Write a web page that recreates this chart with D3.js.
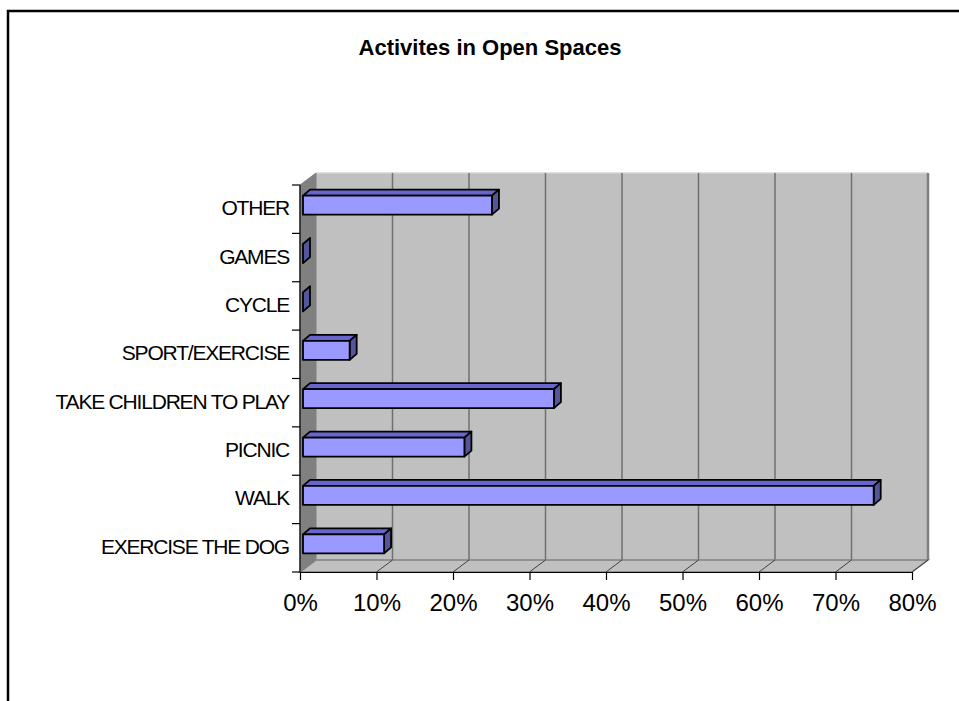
<!DOCTYPE html>
<html>
<head>
<meta charset="utf-8">
<script src="https://cdn.jsdelivr.net/npm/d3@7"></script>
<style>
  html, body { margin: 0; padding: 0; background: #fff; }
  svg { display: block; }
</style>
</head>
<body>
<svg id="chart" width="959" height="701"></svg>
<script>
const title = "Activites in Open Spaces";
const categories = ["EXERCISE THE DOG", "WALK", "PICNIC", "TAKE CHILDREN TO PLAY", "SPORT/EXERCISE", "CYCLE", "GAMES", "OTHER"];
const values = [10.6, 74.6, 21.1, 32.8, 6.1, 0, 0, 24.7];
const xTicks = [0, 10, 20, 30, 40, 50, 60, 70, 80];

const svg = d3.select("#chart");
const font = "'Liberation Sans', Arial, sans-serif";

// outer border
svg.append("rect").attr("x", 8).attr("y", 11).attr("width", 1000).attr("height", 1000)
  .attr("fill", "#fff").attr("stroke", "#000").attr("stroke-width", 2.5);

// geometry
const x0 = 300, x1 = 912, yTopF = 185, yBotF = 572;
const DX = 16, DY = -12;        // wall depth
const x = d3.scaleLinear().domain([0, 80]).range([x0, x1]);
const y = d3.scaleBand().domain(categories).range([yBotF, yTopF]).paddingInner(0).paddingOuter(0);

const walls = svg.append("g");
// back wall
walls.append("rect").attr("x", x0 + DX).attr("y", yTopF + DY).attr("width", x1 - x0).attr("height", yBotF - yTopF)
  .attr("fill", "#c0c0c0").attr("stroke", "none");
// back wall edges
walls.append("line").attr("x1", x0 + DX).attr("x2", x1 + DX).attr("y1", yTopF + DY).attr("y2", yTopF + DY)
  .attr("stroke", "#d4d4d4").attr("stroke-width", 1.5);
walls.append("line").attr("x1", x1 + DX).attr("x2", x1 + DX).attr("y1", yTopF + DY).attr("y2", yBotF + DY)
  .attr("stroke", "#808080").attr("stroke-width", 2.5);
// gridlines on back wall
walls.selectAll("line.grid").data(xTicks.slice(1, -1)).join("line").attr("class", "grid")
  .attr("x1", d => x(d) + DX).attr("x2", d => x(d) + DX)
  .attr("y1", yTopF + DY).attr("y2", yBotF + DY)
  .attr("stroke", "#707070").attr("stroke-width", 1.5);
// floor
walls.append("polygon")
  .attr("points", [[x0, yBotF], [x1, yBotF], [x1 + DX, yBotF + DY], [x0 + DX, yBotF + DY]].map(p => p.join(",")).join(" "))
  .attr("fill", "#c0c0c0").attr("stroke", "#808080").attr("stroke-width", 1.5);
// floor gridlines
walls.selectAll("line.fgrid").data(xTicks.slice(1)).join("line").attr("class", "fgrid")
  .attr("x1", d => x(d)).attr("x2", d => x(d) + DX)
  .attr("y1", yBotF).attr("y2", yBotF + DY)
  .attr("stroke", "#404040").attr("stroke-width", 1);
// left wall
walls.append("polygon")
  .attr("points", [[x0, yTopF], [x0 + DX, yTopF + DY], [x0 + DX, yBotF + DY], [x0, yBotF]].map(p => p.join(",")).join(" "))
  .attr("fill", "#808080").attr("stroke", "#808080").attr("stroke-width", 1);

// bars
const bdx = 7, bdy = -6, bh = 19, off = 3;
const barG = svg.append("g");
categories.forEach((c, i) => {
  const v = values[i];
  const xa = x(0) + off, xb = x(v) + off;
  const cy = y(c) + y.bandwidth() / 2 - 4;
  const yt = cy - bh / 2, yb = cy + bh / 2;
  const g = barG.append("g").attr("stroke", "#000").attr("stroke-width", 1.8).attr("stroke-linejoin", "round");
  g.append("polygon").attr("points", [[xa, yt], [xa + bdx, yt + bdy], [xb + bdx, yt + bdy], [xb, yt]].map(p => p.join(",")).join(" "))
    .attr("fill", "#6666cc");
  g.append("polygon").attr("points", [[xb, yt], [xb + bdx, yt + bdy], [xb + bdx, yb + bdy], [xb, yb]].map(p => p.join(",")).join(" "))
    .attr("fill", "#555599");
  g.append("rect").attr("x", xa).attr("y", yt).attr("width", xb - xa).attr("height", bh)
    .attr("fill", "#9999ff");
});

// y axis
const yAx = svg.append("g");
yAx.append("line").attr("x1", x0).attr("x2", x0).attr("y1", yTopF).attr("y2", yBotF).attr("stroke", "#000").attr("stroke-width", 1.2);
const bounds = categories.map(c => y(c)).concat([yBotF]);
yAx.selectAll("line.t").data(bounds).join("line").attr("class", "t")
  .attr("x1", x0 - 8).attr("x2", x0).attr("y1", d => d).attr("y2", d => d)
  .attr("stroke", "#000").attr("stroke-width", 1.2);
yAx.selectAll("text").data(categories).join("text")
  .attr("x", 289).attr("y", d => y(d) + y.bandwidth() / 2 + 6)
  .attr("text-anchor", "end").attr("font-family", font).attr("font-size", 21)
  .attr("letter-spacing", -1.2).attr("fill", "#000").text(d => d);

// x axis
const xAxis = d3.axisBottom(x).tickValues(xTicks).tickFormat(d => d + "%").tickSize(8).tickSizeOuter(0).tickPadding(14);
const xg = svg.append("g").attr("transform", `translate(0,${yBotF})`).call(xAxis);
xg.select(".domain").attr("stroke", "#000").attr("stroke-width", 1.2);
xg.selectAll(".tick line").attr("stroke", "#000").attr("stroke-width", 1.2);
xg.selectAll(".tick text").attr("font-family", font).attr("font-size", 24).attr("fill", "#000");

// title
svg.append("text").attr("x", 490).attr("y", 55).attr("text-anchor", "middle")
  .attr("font-family", font).attr("font-size", 22).attr("font-weight", "bold").attr("fill", "#000").text(title);
</script>
</body>
</html>
